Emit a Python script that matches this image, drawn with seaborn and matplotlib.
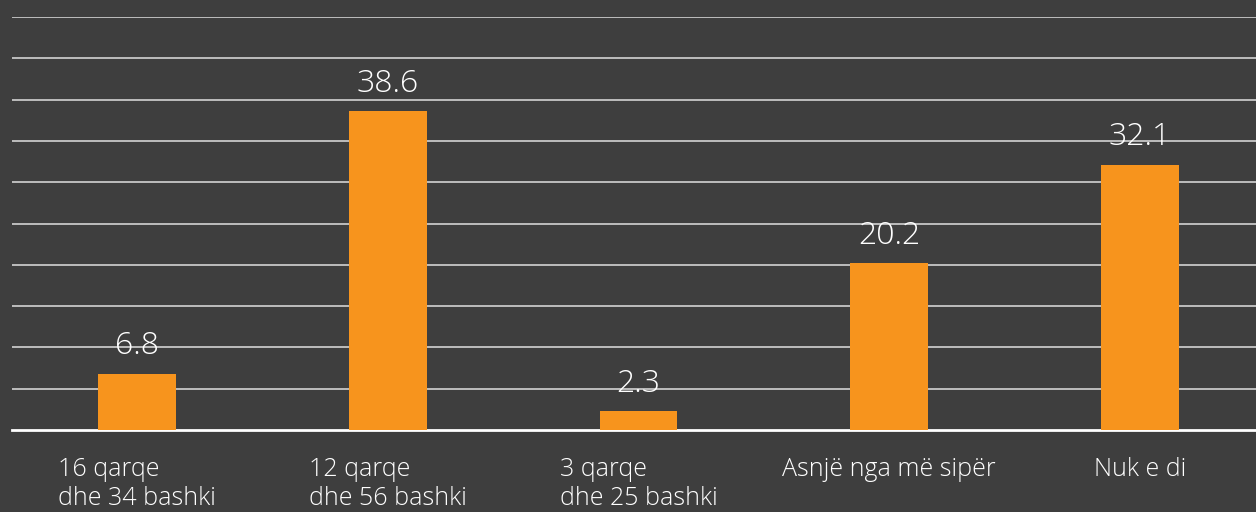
import pandas as pd
import matplotlib.pyplot as plt
import seaborn as sns

categories = ["16 qarqe\ndhe 34 bashki", "12 qarqe\ndhe 56 bashki", "3 qarqe\ndhe 25 bashki",
              "Asnjë nga më sipër", "Nuk e di"]
values = [6.8, 38.6, 2.3, 20.2, 32.1]
grid_ticks = [5, 10, 15, 20, 25, 30, 35, 40, 45, 50]

data = pd.DataFrame({"cat": categories, "val": values})

bg = "#3e3e3e"
sns.set_style("white")
plt.rcParams["font.family"] = ["Open Sans", "DejaVu Sans"]

fig = plt.figure(figsize=(12.56, 5.12), dpi=100, facecolor=bg)
ax = fig.add_axes([12 / 1256, 82 / 512, (1265 - 12) / 1256, (430 - 17) / 512])
ax.set_facecolor(bg)

sns.barplot(x="cat", y="val", data=data, color="#f7941d", width=0.31,
            saturation=1, linewidth=0, ax=ax, zorder=3)

ax.set_ylim(0, 50)
ax.set_xlim(-0.5, 4.5)
ax.set_yticks(grid_ticks)
ax.yaxis.grid(True, color="#d2d2d2", linewidth=1.2, zorder=0)
ax.tick_params(axis="y", left=False, labelleft=False)
ax.tick_params(axis="x", bottom=False, pad=16, labelsize=18, labelcolor="white")
for lab in ax.get_xticklabels():
    lab.set_multialignment("left")
    lab.set_linespacing(1.22)
    lab.set_verticalalignment("top")
    lab.set_fontweight("light")

for s in ["top", "left", "right"]:
    ax.spines[s].set_visible(False)
ax.spines["bottom"].set_color("white")
ax.spines["bottom"].set_linewidth(2)

for i, v in enumerate(values):
    ax.annotate(f"{v:.1f}", (i, v), xytext=(0, 14), textcoords="offset points",
                ha="center", va="baseline", color="white", fontsize=23,
                fontweight="light", zorder=4)

ax.set_xlabel("")
ax.set_ylabel("")
fig.savefig("out.png", dpi=100, facecolor=bg)
